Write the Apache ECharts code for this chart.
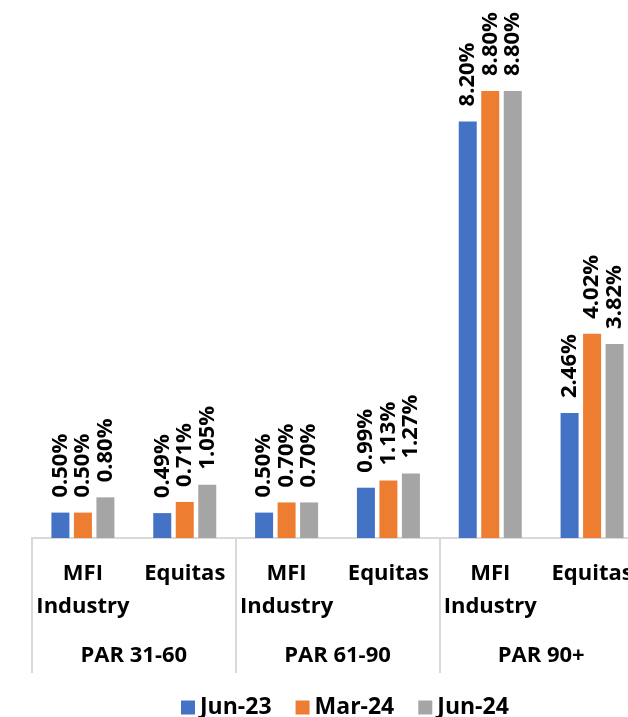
<!DOCTYPE html>
<html><head><meta charset="utf-8">
<script src="https://cdn.jsdelivr.net/npm/echarts@6/dist/echarts.min.js"></script>
<style>html,body{margin:0;padding:0;background:#fff}#c{width:628px;height:717px}</style>
</head><body><div id="c"></div>
<script>
const categories = ['MFI\nIndustry','Equitas','MFI\nIndustry','Equitas','MFI\nIndustry','Equitas'];
const groups = ['PAR 31-60','PAR 61-90','PAR 90+'];
const seriesNames = ['Jun-23','Mar-24','Jun-24'];
const jun23 = [0.50,0.49,0.50,0.99,8.20,2.46];
const mar24 = [0.50,0.71,0.70,1.13,8.80,4.02];
const jun24 = [0.80,1.05,0.70,1.27,8.80,3.82];
const colors = ['#4472C4','#ED7D31','#A5A5A5'];
const FONT = 'Open Sans';
const chart = echarts.init(document.getElementById('c'));
function mk(name, data, color){
  return {name, type:'bar', data, barWidth:18, barGap:'25%', itemStyle:{color},
    label:{show:true, position:'top', distance:15, rotate:90, align:'left', verticalAlign:'middle',
      formatter:p=>p.value.toFixed(2)+'%', fontFamily:FONT, fontWeight:'bold', fontSize:22, color:'#000'}};
}
chart.setOption({
  animation:false,
  textStyle:{fontFamily:FONT},
  grid:{left:32, width:611, top:30, height:508, containLabel:false, outerBoundsMode:'none'},
  legend:{data:seriesNames, left:176, top:691, itemWidth:14, itemHeight:14, itemGap:24, icon:'rect',
    textStyle:{fontFamily:FONT, fontWeight:'bold', fontSize:23, color:'#000'}},
  xAxis:[
    {type:'category', data:categories, position:'bottom',
     axisLine:{show:true, lineStyle:{color:'#D9D9D9', width:2}}, axisTick:{show:false},
     axisLabel:{interval:0, margin:19, fontFamily:FONT, fontWeight:'bold', fontSize:22, lineHeight:33, color:'#000'}},
    {type:'category', data:groups, position:'bottom',
     axisLine:{show:true, lineStyle:{color:'#D9D9D9', width:2}},
     axisTick:{show:true, length:135, interval:0, lineStyle:{color:'#D9D9D9', width:2}},
     axisLabel:{interval:0, margin:107, fontFamily:FONT, fontWeight:'bold', fontSize:22, color:'#000'}}
  ],
  yAxis:{type:'value', min:0, max:10, show:false, splitLine:{show:false}},
  series:[mk(seriesNames[0], jun23, colors[0]), mk(seriesNames[1], mar24, colors[1]), mk(seriesNames[2], jun24, colors[2])]
});
</script></body></html>
